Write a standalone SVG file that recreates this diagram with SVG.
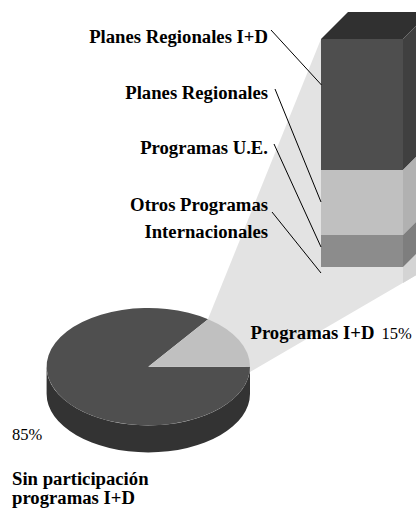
<svg xmlns="http://www.w3.org/2000/svg" width="416" height="509" viewBox="0 0 416 509">
<style>
.lbl{font-family:"Liberation Serif","Times New Roman",serif;font-weight:bold;font-size:18.7px;fill:#000}
.pct{font-family:"Liberation Serif","Times New Roman",serif;font-size:16.5px;fill:#000}
.lead{stroke:#000;stroke-width:1;fill:none}
</style>
<rect width="416" height="509" fill="#fff"/>
<g id="wedge">
<polygon points="321,39 430,39 430,267 250,372 208,319" fill="#e3e3e3"/>
<polygon points="403,267 430,240 430,267 403,283" fill="#d4d4d4"/>
</g>
<g id="bar">
<polygon points="321,39 348,12 430,12 403,39" fill="#303030"/>
<rect x="321" y="39" width="82" height="131" fill="#4e4e4e"/>
<polygon points="403,39 430,12 430,143 403,170" fill="#404040"/>
<rect x="321" y="170" width="82" height="65" fill="#c0c0c0"/>
<polygon points="403,170 430,143 430,208 403,235" fill="#b1b1b1"/>
<rect x="321" y="235" width="82" height="32" fill="#8c8c8c"/>
<polygon points="403,235 430,208 430,240 403,267" fill="#7e7e7e"/>
</g>
<g id="pie">
<path d="M46.6,366.7 A101.7,58.7 0 0 0 250,366.7 L250,393.7 A101.7,58.7 0 0 1 46.6,393.7 Z" fill="#333333"/>
<path d="M148.3,366.7 L250,366.7 A101.7,58.7 0 1 1 208.1,319.2 Z" fill="#4f4f4f"/>
<path d="M148.3,366.7 L250,366.7 A101.7,58.7 0 0 0 208.1,319.2 Z" fill="#c0c0c0"/>
</g>
<g id="connectors">
<line class="lead" x1="271" y1="30" x2="321.5" y2="85"/>
<line class="lead" x1="275" y1="89" x2="321" y2="202"/>
<line class="lead" x1="274" y1="144" x2="321" y2="247"/>
<line class="lead" x1="272" y1="212" x2="321" y2="273"/>
</g>
<g id="label-planes-id"><text class="lbl" x="268" y="43" text-anchor="end">Planes Regionales I+D</text></g>
<g id="label-planes"><text class="lbl" x="268" y="99" text-anchor="end">Planes Regionales</text></g>
<g id="label-ue"><text class="lbl" x="268" y="154" text-anchor="end">Programas U.E.</text></g>
<g id="label-otros"><text class="lbl" x="268" y="211" text-anchor="end">Otros Programas</text><text class="lbl" x="268" y="238" text-anchor="end">Internacionales</text></g>
<g id="label-programas"><text class="lbl" x="250.5" y="339">Programas I+D</text><text class="pct" x="381.5" y="339">15%</text></g>
<g id="label-sin"><text class="pct" x="12" y="440">85%</text><text class="lbl" x="12" y="485">Sin participación</text><text class="lbl" x="12" y="504">programas I+D</text></g>
</svg>
